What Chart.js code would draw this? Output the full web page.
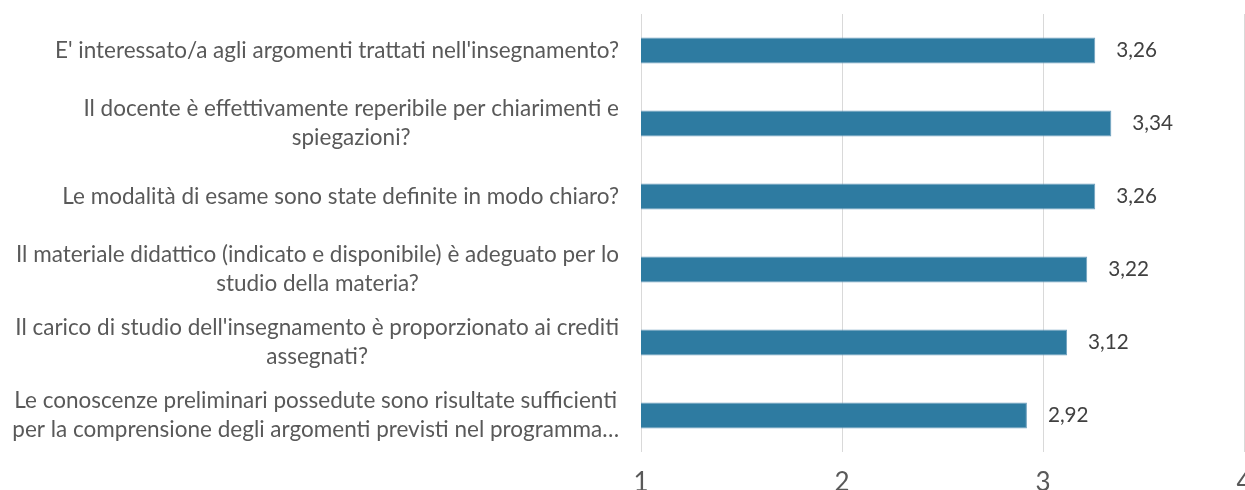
<!DOCTYPE html>
<html>
<head>
<meta charset="utf-8">
<script src="https://cdn.jsdelivr.net/npm/chart.js@4.4.1/dist/chart.umd.min.js"></script>
<style>
  html, body { margin: 0; padding: 0; background: #ffffff; overflow: hidden; }
  #wrap { width: 1245px; height: 490px; position: relative; }
</style>
</head>
<body>
<div id="wrap"><canvas id="c"></canvas></div>
<script>
const categories = [
  ["E' interessato/a agli argomenti trattati nell'insegnamento?"],
  ["Il docente è effettivamente reperibile per chiarimenti e", "spiegazioni?"],
  ["Le modalità di esame sono state definite in modo chiaro?"],
  ["Il materiale didattico (indicato e disponibile) è adeguato per lo", "studio della materia?"],
  ["Il carico di studio dell'insegnamento è proporzionato ai crediti", "assegnati?"],
  ["Le conoscenze preliminari possedute sono risultate sufficienti", "per la comprensione degli argomenti previsti nel programma…"]
];
const values = [3.26, 3.34, 3.26, 3.22, 3.12, 2.92];
const valueLabels = ["3,26", "3,34", "3,26", "3,22", "3,12", "2,92"];
const xTicks = [1, 2, 3, 4];

const FONT = "Lato, 'Open Sans', sans-serif";
const mctx = document.createElement('canvas').getContext('2d');
mctx.font = "18px " + FONT;
const w18 = mctx.measureText(categories[0][0]).width;
const fs = Math.round(18 * 565 / w18 * 10) / 10;

const labelPlugin = {
  id: 'labels',
  afterDatasetsDraw(chart) {
    const ctx = chart.ctx;
    const y = chart.scales.y;
    const meta = chart.getDatasetMeta(0);
    ctx.save();
    ctx.font = fs + "px " + FONT;
    ctx.fillStyle = '#595959';
    ctx.textBaseline = 'middle';
    ctx.textAlign = 'center';
    const lh = 29;
    categories.forEach((lines, i) => {
      const cy = y.getPixelForValue(i);
      const bw = Math.max(...lines.map(l => ctx.measureText(l).width));
      const right = chart.chartArea.left - 22;
      const cx = right - bw / 2;
      lines.forEach((l, j) => {
        ctx.fillText(l, cx, cy + (j - (lines.length - 1) / 2) * lh);
      });
    });
    ctx.font = (fs * 0.92).toFixed(1) + "px " + FONT;
    ctx.fillStyle = '#404040';
    ctx.textAlign = 'left';
    meta.data.forEach((bar, i) => {
      ctx.fillText(valueLabels[i], bar.x + 21, bar.y);
    });
    ctx.restore();
  }
};

new Chart(document.getElementById('c'), {
  type: 'bar',
  data: {
    labels: categories,
    datasets: [{
      data: values,
      backgroundColor: '#2E7BA1',
      borderColor: '#6FA0BE',
      borderWidth: 1,
      borderSkipped: false,
      categoryPercentage: 1,
      barPercentage: 0.356
    }]
  },
  options: {
    indexAxis: 'y',
    responsive: true,
    maintainAspectRatio: false,
    animation: false,
    events: [],
    layout: { padding: { top: 14, left: 0, right: 1, bottom: 0 } },
    plugins: { legend: { display: false }, tooltip: { enabled: false } },
    scales: {
      x: {
        min: 1, max: 4,
        afterBuildTicks(scale) { scale.ticks = xTicks.map(v => ({ value: v })); },
        grid: { color: '#D9D9D9', lineWidth: 1, drawTicks: false },
        border: { display: false },
        ticks: { color: '#595959', font: { family: FONT, size: Math.round(fs * 1.15) }, padding: 15 },
        afterFit(scale) { scale.height = 38; scale.paddingRight = 0; scale.paddingLeft = 0; }
      },
      y: {
        grid: { display: false },
        border: { display: false },
        ticks: { display: false },
        afterFit(scale) { scale.width = 641; }
      }
    }
  },
  plugins: [labelPlugin]
});
</script>
</body>
</html>
